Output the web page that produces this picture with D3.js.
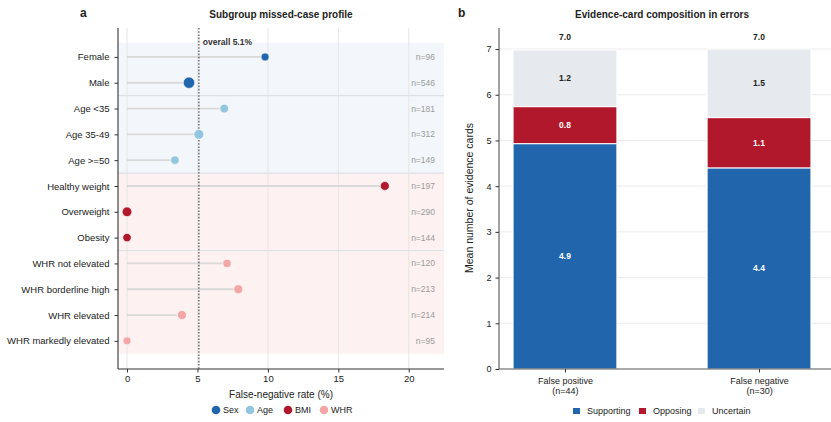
<!DOCTYPE html>
<html lang="en">
<head>
<meta charset="UTF-8">
<script src="https://cdn.jsdelivr.net/npm/d3@7"></script>
<style>
  body { margin: 0; background: #fff; }
  svg text { font-family: "Liberation Sans", Arial, sans-serif; }
</style>
</head>
<body>
<div id="fig"></div>
<script>
const width = 831, height = 422;

// panel a data
const subgroups = ["Female","Male","Age <35","Age 35-49","Age >=50","Healthy weight","Overweight","Obesity",
  "WHR not elevated","WHR borderline high","WHR elevated","WHR markedly elevated"];
const subgroupFamily = ["Sex","Sex","Age","Age","Age","BMI","BMI","BMI","WHR","WHR","WHR","WHR"];
const fnRate = [9.8, 4.4, 6.9, 5.1, 3.4, 18.3, 0, 0, 7.1, 7.9, 3.9, 0];
const subgroupN = [96, 546, 181, 312, 149, 197, 290, 144, 120, 213, 214, 95];
const families = ["Sex","Age","BMI","WHR"];
const overallRate = 5.1;
const xTicksA = [0, 5, 10, 15, 20];

// panel b data
const errorTypes = ["False positive","False negative"];
const errorN = [44, 30];
const cardKinds = ["Supporting","Opposing","Uncertain"];
const supporting = [4.93, 4.40];
const opposing = [0.81, 1.10];
const uncertain = [1.24, 1.50];
const yTicksB = [0,1,2,3,4,5,6,7];

const famColor = d3.scaleOrdinal().domain(families).range(["#2166ac","#92c5de","#b2182b","#f4a5a5"]);
const cardColor = d3.scaleOrdinal().domain(cardKinds).range(["#2166ac","#b2182b","#e6e9ed"]);

const svg = d3.select("#fig").append("svg").attr("width",width).attr("height",height);

// ---------- panel a ----------
const ax = {left:118, right:444, top:28, bottom:369};
const x = d3.scaleLinear().domain([-0.64, 22.5]).range([ax.left, ax.right]);
const y = d3.scaleLinear().domain([-1.12, 12.09]).range([ax.top, ax.bottom]);
const rScale = d3.scaleLinear().domain([96, 546]).range([16, 32.5]);

const ga = svg.append("g");

// group bands
const bands = [{from:-0.55,to:4.5,fill:"#f3f6fa"},{from:4.5,to:11.5,fill:"#fdf1f1"}];
ga.selectAll("rect.band").data(bands).join("rect")
  .attr("x", ax.left).attr("width", ax.right-ax.left)
  .attr("y", d=>y(d.from)).attr("height", d=>y(d.to)-y(d.from))
  .attr("fill", d=>d.fill);

// vertical grid
ga.selectAll("line.grid").data(xTicksA).join("line")
  .attr("x1", d=>x(d)).attr("x2", d=>x(d))
  .attr("y1", ax.top).attr("y2", ax.bottom)
  .attr("stroke","#e6e6e6").attr("stroke-width",1);

// group separators
ga.selectAll("line.sep").data([1.5, 4.5, 7.5]).join("line")
  .attr("x1", ax.left).attr("x2", ax.right)
  .attr("y1", d=>y(d)).attr("y2", d=>y(d))
  .attr("stroke","#dde1e6").attr("stroke-width",1.2);

// stems
ga.selectAll("line.stem").data(fnRate).join("line")
  .attr("x1", x(0)).attr("x2", d=>x(d))
  .attr("y1", (d,i)=>y(i)).attr("y2", (d,i)=>y(i))
  .attr("stroke","#d9d9d9").attr("stroke-width",1.8);

// overall line
ga.append("line")
  .attr("x1", x(overallRate)).attr("x2", x(overallRate))
  .attr("y1", ax.top).attr("y2", ax.bottom)
  .attr("stroke","#666").attr("stroke-width",1.4).attr("stroke-dasharray","1.6,1.6");
ga.append("text").attr("x", x(overallRate)+4).attr("y", 45)
  .attr("font-size",8.5).attr("font-weight","bold").attr("fill","#333")
  .text(`overall ${overallRate}%`);

// dots
ga.selectAll("circle.dot").data(fnRate).join("circle")
  .attr("cx", d=>x(d)).attr("cy", (d,i)=>y(i))
  .attr("r", (d,i)=>Math.sqrt(rScale(subgroupN[i])))
  .attr("fill", (d,i)=>famColor(subgroupFamily[i]))
  .attr("stroke","#fff").attr("stroke-width",0.6);

// n labels
ga.selectAll("text.n").data(subgroupN).join("text")
  .attr("x", 435).attr("y", (d,i)=>y(i)).attr("dy","0.35em")
  .attr("text-anchor","end").attr("font-size",8.5).attr("fill","#9a9a9a")
  .text(d=>`n=${d}`);

// axes
const xAxisA = ga.append("g").attr("transform",`translate(0,${ax.bottom})`)
  .call(d3.axisBottom(x).tickValues(xTicksA).tickSize(3.5).tickPadding(3));
xAxisA.select(".domain").attr("d",`M${ax.left},0H${ax.right}`);
const yAxisA = ga.append("g").attr("transform",`translate(${ax.left},0)`)
  .call(d3.axisLeft(y).tickValues(d3.range(subgroups.length)).tickFormat(i=>subgroups[i]).tickSize(3.5).tickPadding(5));
yAxisA.select(".domain").attr("d",`M0,${ax.top}V${ax.bottom}`);
[xAxisA, yAxisA].forEach(g=>{
  g.select(".domain").attr("stroke","#333").attr("stroke-width",1.1);
  g.selectAll(".tick line").attr("stroke","#333");
  g.selectAll(".tick text").attr("font-size",9.5).attr("fill","#222").attr("font-family","Liberation Sans, Arial, sans-serif");
});

ga.append("text").attr("x",(ax.left+ax.right)/2).attr("y",398).attr("text-anchor","middle")
  .attr("font-size",10).attr("fill","#222").text("False-negative rate (%)");
ga.append("text").attr("x",(ax.left+ax.right)/2).attr("y",18).attr("text-anchor","middle")
  .attr("font-size",10).attr("font-weight","bold").attr("fill","#222").text("Subgroup missed-case profile");
ga.append("text").attr("x",80).attr("y",17).attr("font-size",12).attr("font-weight","bold").attr("fill","#222").text("a");

// legend a
const legA = ga.append("g").attr("transform","translate(216,410)");
const legAx = [0, 34, 72, 108];
families.forEach((f,i)=>{
  const g = legA.append("g").attr("transform",`translate(${legAx[i]},0)`);
  g.append("circle").attr("r",4.3).attr("fill",famColor(f));
  g.append("text").attr("x",7).attr("dy","0.35em").attr("font-size",9).attr("fill","#222").text(f);
});

// ---------- panel b ----------
const bx = {left:499, right:825, top:28, bottom:369};
const xb = d3.scaleLinear().domain([-0.34, 1.34]).range([bx.left, bx.right]);
const yb = d3.scaleLinear().domain([0, 7.46]).range([bx.bottom, bx.top]);
const barW = 0.535;

const gb = svg.append("g");

gb.selectAll("line.grid").data(yTicksB.slice(1)).join("line")
  .attr("x1", bx.left).attr("x2", width)
  .attr("y1", d=>yb(d)).attr("y2", d=>yb(d))
  .attr("stroke","#ebebeb").attr("stroke-width",1);

const table = errorTypes.map((e,i)=>({type:e, idx:i, Supporting:supporting[i], Opposing:opposing[i], Uncertain:uncertain[i]}));
const stacked = d3.stack().keys(cardKinds)(table);

const layers = gb.selectAll("g.layer").data(stacked).join("g").attr("fill", d=>cardColor(d.key));
layers.selectAll("rect").data(d=>d.map(s=>({s, key:d.key}))).join("rect")
  .attr("x", d=>xb(d.s.data.idx - barW/2)).attr("width", xb(barW)-xb(0))
  .attr("y", d=>yb(d.s[1])).attr("height", d=>yb(d.s[0])-yb(d.s[1]))
  .attr("stroke","#fff").attr("stroke-width",1);

// segment labels
stacked.forEach(layer=>{
  gb.selectAll(null).data(layer).join("text")
    .attr("x", d=>xb(d.data.idx)).attr("y", d=>yb((d[0]+d[1])/2)).attr("dy","0.35em")
    .attr("text-anchor","middle").attr("font-size",8.5).attr("font-weight","bold")
    .attr("fill", layer.key==="Uncertain" ? "#222" : "#fff")
    .text(d=>d3.format(".1f")(d[1]-d[0]));
});
// totals
gb.selectAll("text.total").data(table).join("text")
  .attr("x", d=>xb(d.idx)).attr("y", 40)
  .attr("text-anchor","middle").attr("font-size",8.5).attr("font-weight","bold").attr("fill","#222")
  .text(d=>d3.format(".1f")(d.Supporting+d.Opposing+d.Uncertain));

const xAxisB = gb.append("g").attr("transform",`translate(0,${bx.bottom})`)
  .call(d3.axisBottom(xb).tickValues([0,1]).tickFormat(()=>"").tickSize(3.5));
xAxisB.select(".domain").attr("d",`M${bx.left},0H${width}`);
xAxisB.selectAll(".tick").each(function(d){
  const t = d3.select(this).append("text").attr("fill","#222").attr("font-size",9).attr("text-anchor","middle");
  t.append("tspan").attr("x",0).attr("y",15).text(errorTypes[d]);
  t.append("tspan").attr("x",0).attr("y",25).text(`(n=${errorN[d]})`);
});
const yAxisB = gb.append("g").attr("transform",`translate(${bx.left},0)`)
  .call(d3.axisLeft(yb).tickValues(yTicksB).tickSize(3.5).tickPadding(4));
yAxisB.select(".domain").attr("d",`M0,${bx.top}V${bx.bottom}`);
[xAxisB, yAxisB].forEach(g=>{
  g.select(".domain").attr("stroke","#555").attr("stroke-width",1.1);
  g.selectAll(".tick line").attr("stroke","#333");
  g.selectAll(".tick text").attr("font-size",9).attr("fill","#222").attr("font-family","Liberation Sans, Arial, sans-serif");
});

gb.append("text").attr("transform",`translate(473,198) rotate(-90)`)
  .attr("text-anchor","middle").attr("font-size",10.5).attr("fill","#222").text("Mean number of evidence cards");
gb.append("text").attr("x",(bx.left+bx.right)/2).attr("y",18).attr("text-anchor","middle")
  .attr("font-size",10).attr("font-weight","bold").attr("fill","#222").text("Evidence-card composition in errors");
gb.append("text").attr("x",458).attr("y",17).attr("font-size",12).attr("font-weight","bold").attr("fill","#222").text("b");

// legend b
const legB = gb.append("g").attr("transform","translate(573,411)");
const legBx = [0, 66, 125];
cardKinds.forEach((k,i)=>{
  const g = legB.append("g").attr("transform",`translate(${legBx[i]},0)`);
  g.append("rect").attr("x",0).attr("y",-3).attr("width",7).attr("height",6).attr("fill",cardColor(k));
  g.append("text").attr("x",14).attr("dy","0.35em").attr("font-size",9).attr("fill","#222").text(k);
});
</script>
</body>
</html>
